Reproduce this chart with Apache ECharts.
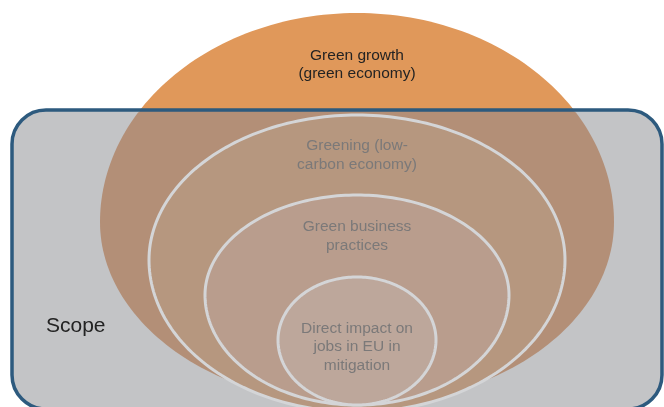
<!DOCTYPE html>
<html>
<head>
<meta charset="utf-8">
<script src="https://cdn.jsdelivr.net/npm/echarts@6/dist/echarts.min.js"></script>
<style>
  html, body { margin: 0; padding: 0; background: #fff; }
  #chart { width: 664px; height: 407px; }
</style>
</head>
<body>
<div id="chart"></div>
<script>
// 概念层级，从外到内（单位：图上相对尺度，底部交汇点为原点）
var names = [
  'Green growth\n(green economy)',
  'Greening (low-\ncarbon economy)',
  'Green business\npractices',
  'Direct impact on\njobs in EU in\nmitigation'
];
var halfWidths = [257, 208, 152, 79]; // 最宽处半宽
var tops = [392, 290, 210, 128];      // 顶部高度
var waists = [183, 145, 110, 65];     // 最宽处所在高度
var bottoms = [0, -7, 0, 0];          // 底部高度
// Scope 框
var scopeName = 'Scope';
var scopeX = [-345, 305];
var scopeY = [-4, 295];

var chart = echarts.init(document.getElementById('chart'));

// 上半椭圆 + 下半椭圆组成的蛋形，clipTop 用来截掉 scope 框以上部分
function eggPoints(i, clipTop) {
  var pts = [];
  var rx = halfWidths[i], w = waists[i];
  var ryT = tops[i] - w, ryB = w - bottoms[i];
  for (var k = 0; k <= 240; k++) {
    var t = k / 240 * 2 * Math.PI;
    var s = Math.sin(t);
    var y = s >= 0 ? w + ryT * s : w + ryB * s;
    if (clipTop != null && y > clipTop) y = clipTop;
    pts.push([rx * Math.cos(t), y]);
  }
  return pts;
}

function eggSeries(z, idx, fill, stroke, clipTop) {
  return {
    type: 'custom',
    z: z,
    silent: true,
    data: idx.map(function (i) { return [i, tops[i]]; }),
    renderItem: function (params, api) {
      var i = api.value(0);
      var pts = eggPoints(i, clipTop).map(function (p) { return api.coord(p); });
      return {
        type: 'polygon',
        shape: { points: pts },
        style: {
          fill: typeof fill === 'function' ? fill(i) : fill,
          stroke: stroke || null,
          lineWidth: stroke ? 3 : 0
        }
      };
    }
  };
}

function scopeSeries(z, fill, stroke) {
  return {
    type: 'custom',
    z: z,
    silent: true,
    data: [[scopeX[0], scopeY[1]]],
    renderItem: function (params, api) {
      var p0 = api.coord([scopeX[0], scopeY[1]]);
      var p1 = api.coord([scopeX[1], scopeY[0]]);
      return {
        type: 'rect',
        shape: { x: p0[0], y: p0[1], width: p1[0] - p0[0], height: p1[1] - p0[1], r: 34 },
        style: { fill: fill, stroke: stroke, lineWidth: stroke ? 3.5 : 0 }
      };
    }
  };
}

var innerFills = ['', '#b6977f', '#b99d8d', '#bda79b'];

// 标签位置：相邻两层顶部的中点
function labelY(i) {
  if (i === 0) return (tops[0] + scopeY[1]) / 2 - 3;
  if (i < names.length - 1) return (tops[i] + tops[i + 1]) / 2;
  return waists[i] - 7;
}

var option = {
  animation: false,
  grid: { left: 0, right: 0, top: 0, bottom: 0 },
  xAxis: { type: 'value', min: -357, max: 307, show: false },
  yAxis: { type: 'value', min: -2, max: 405, show: false },
  series: [
    eggSeries(1, [0], '#e0985a'),
    scopeSeries(2, '#c3c4c6', null),
    eggSeries(3, [0], '#b38f77', null, scopeY[1]),
    eggSeries(4, [1, 2, 3], function (i) { return innerFills[i]; }, '#d4d5d7'),
    scopeSeries(5, 'none', '#2d5a7e'),
    {
      type: 'custom',
      z: 6,
      silent: true,
      data: names.map(function (n, i) { return [0, labelY(i)]; }).concat([[scopeX[0] + 34, 79]]),
      renderItem: function (params, api) {
        var i = params.dataIndex;
        var pt = api.coord([api.value(0), api.value(1)]);
        var isScope = i === names.length;
        return {
          type: 'text',
          x: pt[0],
          y: pt[1],
          style: {
            text: isScope ? scopeName : names[i],
            fill: isScope || i === 0 ? '#232323' : '#7b7979',
            fontFamily: 'Liberation Sans, Arial, sans-serif',
            fontSize: isScope ? 21 : 15.5,
            lineHeight: 18.5,
            align: isScope ? 'left' : 'center',
            verticalAlign: 'middle'
          }
        };
      }
    }
  ]
};
chart.setOption(option);
</script>
</body>
</html>
